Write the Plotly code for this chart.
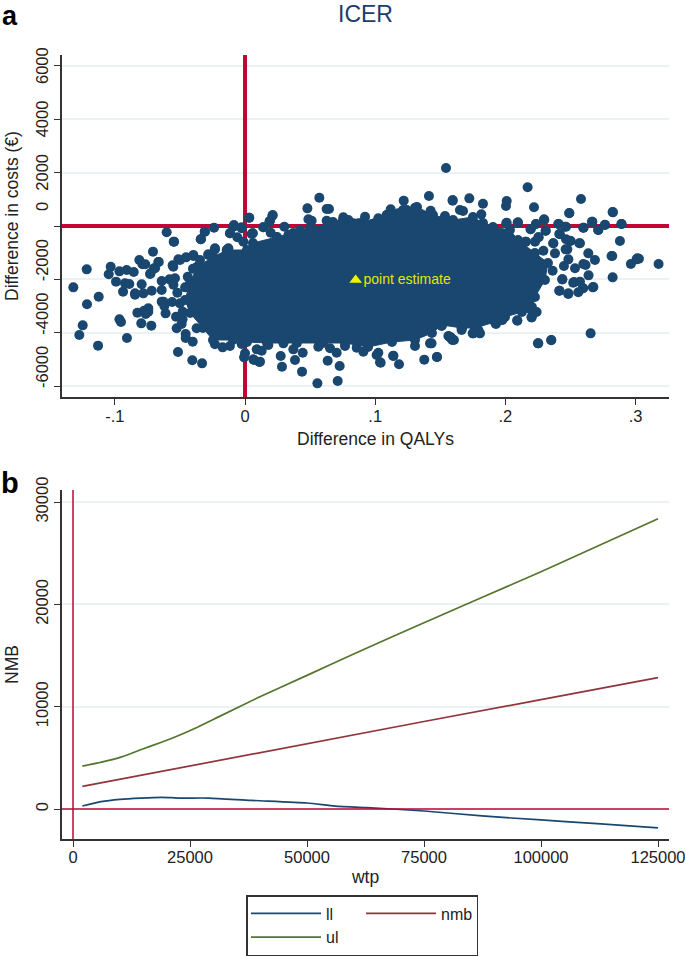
import plotly.graph_objects as go

# panel a: bootstrap replications, by region of the cloud
left_qaly = [-.1319, -.1216, -.1124, -.1214, -.1247, -.1273, -.1129, -.1047, -.1032, -.0991, -.0965, -.0953,
             -.0965, -.0937, -.0922, -.0909, -.0907, -.0889, -.0855, -.0845, -.0845, -.0827, -.0812, -.0797,
             -.0794, -.0788, -.0781, -.0776, -.0766, -.0763, -.0743, -.0743, -.0730, -.0725, -.0720, -.0717,
             -.0707, -.0699, -.0691, -.0666, -.0663, -.0640, -.0640, -.0627, -.0610, -.0602, -.0556, -.0551,
             -.0548, -.0545, -.0538, -.0525, -.0515, -.0512, -.0499, -.0487, -.0479, -.0456, -.0456, -.0453,
             -.0405, -.0402, -.0397, -.0397, -.0372, -.0346, -.0341, -.0338, -.0330, -.0310, -.0308, -.0282,
             -.0282, -.0238, -.0231, -.0231, -.0231, -.0172, -.0141, -.0128, -.0116, -.0116, -.0115, -.0090,
             -.0085, -.0059, -.0026, -.0026, -.0026, -.0013,
             -.0640, -.0580, -.0550, -.0520, -.0500, -.0560, -.0620, -.0480, -.0440, -.0400, -.0460, -.0530]
left_cost = [-2300, -1625, -2650, -2937, -3725, -4087, -4487, -1812, -1525, -2087, -1700, -3600,
             -3500, -2462, -2150, -1650, -4200, -2175, -1725, -2525, -2575, -3250, -1275, -3650,
             -2187, -1437, -2525, -3175, -1437, -3300, -3087, -3212, -1800, -1775, -3737, -2425,
             -962, -1587, -1587, -1350, -1350, -2062, -2837, -2837, -3275, -237, -1475, -1525,
             -587, -587, -1962, -3837, -4725, -1250, -1275, -3675, -3212, -4050, -4200, -1175,
             -5037, -4337, -1087, -1125, -3837, -1275, -500, -500, -5150, -212, -212, -1062,
             -1087, -62, -875, -837, -4437, -4550, -900, -837, -4500, -275, -275, -25,
             37, -425, -87, -50, -4425, -587,
             -2400, -2000, -2200, -2500, -2900, -2850, -3000, -3500, -1900, -1600, -2300, -3400]

bottom_qaly = [-.0007, .0000, .0064, .0069, .0090, .0110, .0115, .0128, .0179, .0274, .0284, .0295, .0371,
               .0384, .0438, .0443, .0556, .0563, .0635, .0653, .0704, .0712, .0727, .0768, .0858, .0909,
               .1011, .1024, .1037, .1042, .1139, .1139, .1183, .1306, .1377, .1421, .1433, .1474, .1475,
               .1510, .1562, .1574, .1575, .1587, .1592, .1605, .1664, .1664, .1749, .1753, .1792, .1800,
               .1805, .1925, .1928, .1971, .1977, .2091, .2092, .2183, .2194, .2201, .2202, .2215, .2240,
               .2250, .2253, .2352, .2353, .2655]
bottom_cost = [-4925, -4775, -5000, -5025, -4625, -5100, -5087, -4675, -4462, -4875, -5275, -4400, -4625,
               -5025, -5462, -4750, -5900, -4525, -5050, -4587, -4750, -5812, -5250, -4500, -4562, -4712,
               -4837, -4750, -5112, -5125, -4862, -4875, -5187, -4500, -5012, -4400, -4400, -4912, -4912,
               -3750, -4125, -4150, -4175, -4212, -4275, -4275, -3837, -3900, -4025, -4025, -3900, -4000,
               -4025, -3650, -3675, -3525, -3525, -3537, -3550, -3087, -3125, -3425, -3425, -3212, -3225,
               -4400, -4400, -4287, -4275, -4025]

top_qaly = [.0033, .0030, .0051, .0059, .0059, .0140, .0141, .0187, .0192, .0197, .0210, .0213, .0243, .0302,
            .0333, .0423, .0479, .0487, .0512, .0571, .0627, .0627, .0645, .0704, .0755, .0794, .0832, .0871,
            .0922, .1024, .1088, .1119, .1178, .1219, .1242, .1306, .1413, .1426, .1447, .1536, .1544, .1595,
            .1595, .1651, .1675, .1723, .1815, .1828, .2005, .2010, .2010, .2097, .2171, .2220]
top_cost = [312, 312, -300, -275, -275, -50, -50, 162, 200, -250, 387, 412, -425, -25,
            -337, -150, 662, 250, 200, 1062, 637, 200, 637, 50, 325, 225, 100, 100,
            350, 287, 412, 625, 475, 950, 600, 687, 1125, 575, 200, 375, 2175, 950,
            975, 600, 562, 1037, 437, 837, 750, 937, 125, 137, 1450, 700]

right_qaly = [.2007, .2094, .2155, .2158, .2194, .2194, .2228, .2235, .2235, .2253, .2256, .2292, .2297, .2299,
              .2309, .2310, .2363, .2368, .2368, .2381, .2406, .2410, .2414, .2414, .2416, .2419, .2437, .2438,
              .2450, .2457, .2463, .2466, .2466, .2476, .2483, .2484, .2484, .2491, .2491, .2496, .2502, .2521,
              .2527, .2535, .2560, .2568, .2573, .2573, .2581, .2594, .2598, .2598, .2599, .2601, .2616, .2637,
              .2639, .2665, .2668, .2672, .2676, .2688, .2713, .2714, .2765, .2765, .2816, .2821, .2824, .2824,
              .2826, .2880, .2891, .2893, .2964, .3008, .3014, .3026, .3177]
right_cost = [100, 125, -587, -587, -125, -125, -587, 75, 75, -425, -425, -925, 250, 225,
              -175, -175, -1675, -650, -650, -1025, 75, 75, -300, -2425, -2425, -312, -2000, -2000,
              -1500, -25, -875, -25, -500, -875, -2550, -1250, -2525, 487, 475, -550, -562, -2125,
              -2100, -1587, -2487, -650, -2087, -650, 1012, -2337, -2337, -62, -1425, -62, -1462, -1025,
              -1850, 162, 162, -2300, -2287, -1275, -150, -150, 50, 37, -1125, -1125, 525, -1925,
              512, -562, 75, 75, -1425, -1250, -1212, -1225, -1425]

# outline of the part of the cloud where single points can no longer be told apart
dense_qaly = [-.0369, -.0246, -.0138, .0015, .0061, .0246, .0369, .0499, .0676, .0753, .0906, .1091, .1214, .1321,
              .1444, .1598, .1751, .1828, .1905, .2035, .2097, .2227, .2327, .2304, .2227, .2204, .2127, .1997,
              .1920, .1767, .1667, .1513, .1436, .1306, .1129, .0945, .0768, .0599, .0399, .0169, .0015, -.0092,
              -.0246, -.0323, -.0422, -.0461, -.0422, -.0369]
dense_cost = [-1537, -1162, -900, -900, -637, -412, -262, -75, 150, 225, 150, 412, 600, 712,
              412, 225, 337, 112, -37, -150, -525, -1012, -1387, -2025, -2662, -3037, -3225, -3412,
              -3600, -3825, -3825, -3712, -4012, -4275, -4350, -4537, -4387, -4387, -4387, -4387, -4350, -4275,
              -4275, -3825, -3262, -2775, -2137, -1537]

point_qaly = [.085]
point_cost = [-2025]

cost_ticks = [6000, 4000, 2000, 0, -2000, -4000, -6000]
qaly_ticks = [-.1, 0, .1, .2, .3]
qaly_labels = ["-.1", "0", ".1", ".2", ".3"]

# panel b
ll_wtp = [2000, 6000, 10000, 14500, 19000, 22700, 29000, 38000, 50000, 56000, 62700, 68200, 75000, 87400, 100000, 112000, 125000]
ll_nmb = [290, 715, 940, 1070, 1140, 1070, 1070, 845, 585, 290, 130, 0, -195, -680, -1070, -1430, -1850]
ul_wtp = [2000, 6100, 10400, 14600, 18900, 22700, 26100, 31200, 39700, 50000, 60200, 75000, 100000, 125000]
ul_nmb = [4190, 4580, 5100, 5820, 6530, 7210, 7900, 9030, 10920, 13060, 15200, 18200, 23200, 28370]
nmb_wtp = [2000, 25000, 50000, 75000, 100000, 125000]
nmb_val = [2210, 4220, 6370, 8550, 10690, 12840]

wtp_ticks = [0, 25000, 50000, 75000, 100000, 125000]
nmb_ticks = [0, 10000, 20000, 30000]

NAVY = "#1a476f"
RED = "#c10534"
GRID = "#eaf2f3"
AXIS = "#333333"
FONT = "Liberation Sans"
W, H = 685, 956
QALY_RANGE = [-.1406, .3257]
COST_RANGE = [-6412, 6412]
WTP_RANGE = [-2350, 127350]
NMB_RANGE = [-2933, 31183]

fig = go.Figure()
marker = dict(color=NAVY, size=10)
fig.add_trace(go.Scatter(x=dense_qaly, y=dense_cost, mode="lines+markers", fill="toself", fillcolor=NAVY,
                         line=dict(color=NAVY, width=1), marker=marker, showlegend=False))
for xs, ys in [(left_qaly, left_cost), (bottom_qaly, bottom_cost), (top_qaly, top_cost), (right_qaly, right_cost)]:
    fig.add_trace(go.Scatter(x=xs, y=ys, mode="markers", marker=marker, showlegend=False))
fig.add_trace(go.Scatter(x=point_qaly, y=point_cost, mode="markers+text", text=["point estimate"],
                         textposition="middle right", textfont=dict(color="#e3e600", size=14, family=FONT),
                         marker=dict(color="#f2f200", size=11, symbol="triangle-up"), showlegend=False))

fig.add_trace(go.Scatter(x=ll_wtp, y=ll_nmb, mode="lines", name="ll", legendgroup="c1",
                         line=dict(color=NAVY, width=1.7, shape="spline", smoothing=0.6), xaxis="x2", yaxis="y2"))
fig.add_trace(go.Scatter(x=ul_wtp, y=ul_nmb, mode="lines", name="ul", legendgroup="c1",
                         line=dict(color="#55752f", width=1.7, shape="spline", smoothing=0.6), xaxis="x2", yaxis="y2"))
fig.add_trace(go.Scatter(x=nmb_wtp, y=nmb_val, mode="lines", name="nmb", legendgroup="c2",
                         line=dict(color="#90353b", width=1.7), xaxis="x2", yaxis="y2"))

# reference lines
fig.add_shape(type="line", xref="x", yref="y", x0=0, x1=0, y0=COST_RANGE[0], y1=COST_RANGE[1],
              line=dict(color=RED, width=4), layer="between")
fig.add_shape(type="line", xref="x", yref="y", x0=QALY_RANGE[0], x1=QALY_RANGE[1], y0=0, y1=0,
              line=dict(color=RED, width=4), layer="between")
fig.add_shape(type="line", xref="x2", yref="y2", x0=0, x1=0, y0=NMB_RANGE[0], y1=NMB_RANGE[1],
              line=dict(color=RED, width=1.5))
fig.add_shape(type="line", xref="x2", yref="y2", x0=WTP_RANGE[0], x1=WTP_RANGE[1], y0=0, y1=0,
              line=dict(color=RED, width=1.5))

axis_style = dict(showline=True, linecolor=AXIS, linewidth=1.5, ticks="outside", ticklen=6, tickwidth=1,
                  tickcolor=AXIS, zeroline=False, ticklabeloverflow="allow",
                  tickfont=dict(family=FONT, size=16.5, color="#222222"))
title_font = dict(family=FONT, size=17.5, color="#222222")

fig.update_layout(
    width=W, height=H, autosize=False,
    margin=dict(l=0, r=0, t=0, b=0, autoexpand=False),
    paper_bgcolor="white", plot_bgcolor="white",
    font=dict(family=FONT),
    xaxis=dict(domain=[62 / W, 669 / W], range=QALY_RANGE, tickvals=qaly_ticks, ticktext=qaly_labels,
               ticklabelstandoff=-3, showgrid=False, **axis_style),
    yaxis=dict(domain=[1 - 397 / H, 1 - 55 / H], range=COST_RANGE, tickvals=cost_ticks, showticklabels=False,
               showgrid=True, gridcolor=GRID, gridwidth=1.5, **axis_style),
    xaxis2=dict(domain=[62 / W, 669 / W], range=WTP_RANGE, tickvals=wtp_ticks, anchor="y2", tickformat="d",
                ticklabelstandoff=-4, showgrid=False,
                title=dict(text="wtp", font=title_font, standoff=6), **axis_style),
    yaxis2=dict(domain=[1 - 839 / H, 1 - 490 / H], range=NMB_RANGE, tickvals=nmb_ticks, anchor="x2", tickformat="d",
                tickangle=-90, showgrid=True, gridcolor=GRID, gridwidth=1.5,
                title=dict(text="NMB", font=title_font, standoff=10), **axis_style),
    legend=dict(orientation="h", traceorder="grouped", x=246 / W, y=1 - 895 / H, xanchor="left", yanchor="top",
                bordercolor=AXIS, borderwidth=1.5, itemwidth=70, entrywidth=30, entrywidthmode="pixels",
                font=dict(family=FONT, size=16, color="#222222")),
)

centered = dict(xanchor="center", yanchor="middle", showarrow=False)
# y tick labels of panel a: the non-positive ones sit higher than their ticks
for v in cost_ticks:
    fig.add_annotation(x=42 / W, xref="paper", y=v, yref="y", text=str(v), textangle=-90,
                       yshift=19 if v <= 0 else 0, font=dict(family=FONT, size=16.5, color="#222222"), **centered)
fig.add_annotation(x=12 / W, xref="paper", y=1 - 216 / H, yref="paper", text="Difference in costs (€)",
                   textangle=-90, font=title_font, **centered)
fig.add_annotation(x=375 / W, xref="paper", y=1 - 439 / H, yref="paper", text="Difference in QALYs",
                   font=title_font, **centered)
fig.add_annotation(x=365 / W, xref="paper", y=1 - 14 / H, yref="paper", text="ICER",
                   font=dict(family=FONT, size=23, color="#1a3d6d"), **centered)
fig.add_annotation(x=10 / W, xref="paper", y=1 - 16 / H, yref="paper", text="<b>a</b>",
                   font=dict(family=FONT, size=27, color="black"), **centered)
fig.add_annotation(x=10 / W, xref="paper", y=1 - 483 / H, yref="paper", text="<b>b</b>",
                   font=dict(family=FONT, size=29, color="black"), **centered)

# the page's default body margin would push the whole figure 8 px off
fig.write_html("out.html", config={"displayModeBar": False}, post_script="document.body.style.margin = '0';")
